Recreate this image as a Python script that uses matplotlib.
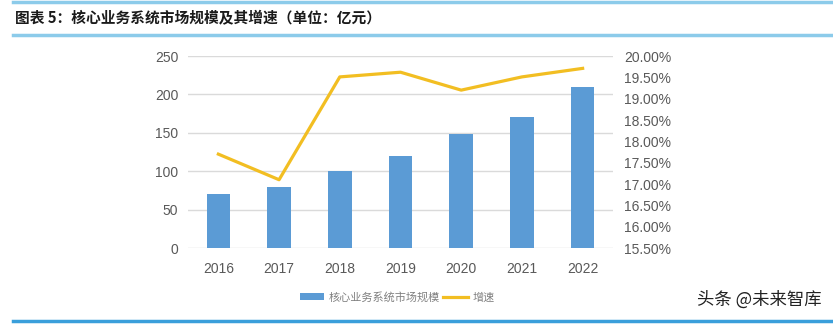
import matplotlib
matplotlib.use("Agg")
import matplotlib.pyplot as plt
from matplotlib.lines import Line2D
from matplotlib.patches import Patch
import numpy as np

years = ["2016", "2017", "2018", "2019", "2020", "2021", "2022"]
market_size = [70, 80, 100, 120, 148, 170, 210]
growth = [17.70, 17.10, 19.51, 19.62, 19.20, 19.51, 19.71]
left_ticks = [0, 50, 100, 150, 200, 250]
right_ticks = [15.5, 16.0, 16.5, 17.0, 17.5, 18.0, 18.5, 19.0, 19.5, 20.0]

title = "图表 5：核心业务系统市场规模及其增速（单位：亿元）"
bar_label = "核心业务系统市场规模"
line_label = "增速"
watermark = "头条 @未来智库"

plt.rcParams['font.family'] = ['Liberation Sans', 'Noto Sans CJK SC', 'DejaVu Sans']

W, H = 833, 324
fig = plt.figure(figsize=(W / 100, H / 100), dpi=100)
fig.patch.set_facecolor("white")

ax = fig.add_axes([188 / W, 1 - 248 / H, (613 - 188) / W, (248 - 56) / H])
x = np.arange(len(years))
bar_color = "#5B9BD5"
line_color = "#F2BE22"
tick_color = "#595959"

ax.bar(x, market_size, width=0.39, color=bar_color, zorder=2)
ax.set_xlim(-0.5, len(years) - 0.5)
ax.set_ylim(0, 250)
ax.set_yticks(left_ticks)
ax.set_xticks(x)
ax.set_xticklabels(years)
ax.yaxis.grid(True, color="#DADADA", linewidth=1.0, zorder=0)
ax.set_axisbelow(True)
for s in ax.spines.values():
    s.set_visible(False)
ax.tick_params(axis="both", length=0, labelsize=10, labelcolor=tick_color)
ax.tick_params(axis="y", pad=7)
ax.tick_params(axis="x", pad=10)

ax2 = ax.twinx()
ax2.plot(x, growth, color=line_color, linewidth=2.3, zorder=3)
ax2.set_ylim(15.5, 20.0)
ax2.set_yticks(right_ticks)
ax2.set_yticklabels([f"{v:.2f}%" for v in right_ticks])
for s in ax2.spines.values():
    s.set_visible(False)
ax2.tick_params(axis="y", length=0, labelsize=10, labelcolor=tick_color, pad=8)

# Title and decorative lines
fig.text(15 / W, 1 - 18 / H, title, fontsize=10.6, fontweight="bold",
         family=['Noto Sans CJK SC', 'DejaVu Sans'], color="#1a1a1a",
         ha="left", va="center")
fig.add_artist(Line2D([13 / W, 1.0], [1 - 1.5 / H, 1 - 1.5 / H], color="#8CCBEA", linewidth=2.5))
fig.add_artist(Line2D([13 / W, 1.0], [1 - 35 / H, 1 - 35 / H], color="#8CCBEA", linewidth=2.5))
fig.add_artist(Line2D([13 / W, 1.0], [1 - 321 / H, 1 - 321 / H], color="#3A9FDB", linewidth=2.5))

# Legend
handles = [Patch(facecolor=bar_color, edgecolor="none"),
           Line2D([0], [0], color=line_color, linewidth=2.3)]
leg = fig.legend(handles, [bar_label, line_label], loc="center",
                 bbox_to_anchor=(397 / W, 1 - 297 / H), ncol=2, frameon=False,
                 prop={'family': ['Noto Sans CJK SC', 'DejaVu Sans'], 'size': 8},
                 handlelength=2.2, handleheight=0.6, handletextpad=0.4, columnspacing=0.3)
for t in leg.get_texts():
    t.set_color("#808080")

fig.text(822 / W, 1 - 300 / H, watermark, fontsize=12.5,
         family=['Noto Sans CJK SC', 'DejaVu Sans'], color="#222222",
         ha="right", va="center")

fig.savefig("out.png", dpi=100)
